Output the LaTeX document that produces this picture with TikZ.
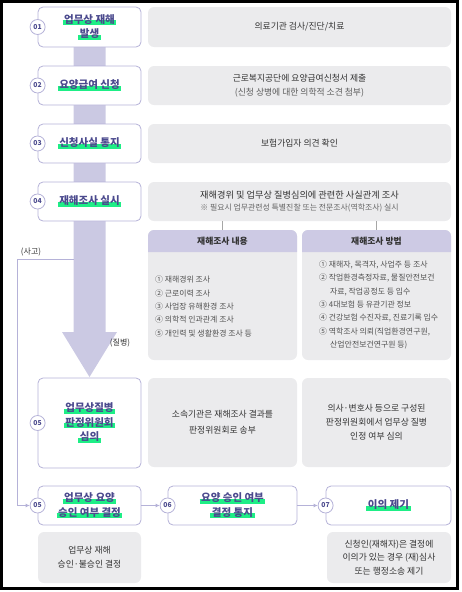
\documentclass[tikz,border=0pt]{standalone}
\usepackage{fontspec}
\setmainfont{Noto Sans CJK KR}
\usetikzlibrary{arrows.meta}

\definecolor{boxline}{HTML}{B5B2D8}
\definecolor{titleblue}{HTML}{4B4A8E}
\definecolor{markgreen}{HTML}{1EEE86}
\definecolor{panelgray}{HTML}{EBEBED}
\definecolor{headlav}{HTML}{CDCAE4}
\definecolor{shaftlav}{HTML}{CBC9E3}
\definecolor{bodytext}{HTML}{333333}

% green marker under the step titles
\newsavebox\hlbox
\newcommand\hilite[1]{\sbox\hlbox{#1}\hbox{\hspace{-1.5pt}\rlap{\color{markgreen}\rule[-2pt]{\dimexpr\wd\hlbox+3pt\relax}{5pt}}\hspace{1.5pt}\usebox\hlbox}}

\tikzset{
  stepbox/.style={draw=boxline, line width=0.8pt, fill=white, rounded corners=5pt,
    minimum width=103pt, inner sep=2pt, align=center, text=titleblue,
    font=\fontsize{10.5}{14.5}\selectfont\bfseries},
  numdot/.style={circle, draw=boxline, line width=0.8pt, fill=white, minimum size=15pt,
    inner sep=0pt, text=titleblue, font=\fontsize{6.8}{7}\selectfont\bfseries},
  infobox/.style={fill=panelgray, rounded corners=6pt, inner sep=2pt, align=center,
    text=bodytext, font=\fontsize{8.8}{13.5}\selectfont},
  headtext/.style={text=bodytext, font=\fontsize{8.8}{10}\selectfont\bfseries},
  listtext/.style={align=left, anchor=west, inner sep=0pt, text=bodytext!85,
    font=\fontsize{7.9}{13.3}\selectfont},
  flowline/.style={draw=boxline, line width=0.8pt, -{Latex[length=4pt,width=4pt]}},
  tickline/.style={draw=gray!70, line width=0.6pt},
  sidenote/.style={text=bodytext, font=\fontsize{8}{10}\selectfont},
}

\begin{document}
\begin{tikzpicture}[x=1pt, y=-1pt]
    \useasboundingbox (0,0) rectangle (462,592);
    % Outer frame
    \draw[line width=3pt] (1.5,1.5) rectangle (457.5,588.5);

    % Big arrow behind the steps
    \fill[shaftlav] (73.5,47) -- (105.5,47) -- (105.5,332) -- (117,332)
        -- (89.5,377) -- (62,332) -- (73.5,332) -- cycle;

    % Steps (left column)
    \node[stepbox, minimum height=40pt] (s01) at (89.5,27) {\hilite{업무상 재해}\\\hilite{발생}};
    \node[stepbox, minimum height=39pt] (s02) at (89.5,85.5) {\hilite{요양급여 신청}};
    \node[stepbox, minimum height=39pt] (s03) at (89.5,143.5) {\hilite{신청사실 통지}};
    \node[stepbox, minimum height=39pt] (s04) at (89.5,201.5) {\hilite{재해조사 실시}};
    \node[stepbox, minimum height=90pt] (s05) at (89.5,423) {\hilite{업무상질병}\\\hilite{판정위원회}\\\hilite{심의}};
    \node[stepbox, minimum height=39pt] (s05b) at (89.5,505.5) {\hilite{업무상 요양}\\\hilite{승인 여부 결정}};
    \node[stepbox, minimum height=39pt, minimum width=129pt] (s06) at (232.5,505.5) {\hilite{요양 승인 여부}\\\hilite{결정 통지}};
    \node[stepbox, minimum height=39pt, minimum width=125pt] (s07) at (388.5,505.5) {\hilite{이의 제기}};

    % Step numbers
    \node[numdot] (c01) at (s01.west) {01};
    \node[numdot] (c02) at (s02.west) {02};
    \node[numdot] (c03) at (s03.west) {03};
    \node[numdot] (c04) at (s04.west) {04};
    \node[numdot] (c05) at (s05.west) {05};
    \node[numdot] (c05b) at (s05b.west) {05};
    \node[numdot] (c06) at (s06.west) {06};
    \node[numdot] (c07) at (s07.west) {07};

    % Details (grey panels)
    \node[infobox, minimum width=303pt, minimum height=40pt] (g01) at (299.5,27) {의료기관 검사/진단/치료};
    \node[infobox, minimum width=303pt, minimum height=39pt] (g02) at (299.5,85.5)
        {근로복지공단에 요양급여신청서 제출\\{\color{bodytext!80}(신청 상병에 대한 의학적 소견 첨부)}};
    \node[infobox, minimum width=303pt, minimum height=39pt] (g03) at (299.5,143.5) {보험가입자 의견 확인};
    \node[infobox, minimum width=303pt, minimum height=39pt, font=\fontsize{9.2}{13}\selectfont] (g04) at (299.5,201.5)
        {재해경위 및 업무상 질병심의에 관련한 사실관계 조사\\[-1pt]{\fontsize{7.9}{10}\selectfont\color{bodytext!75}※ 필요시 업무관련성 특별진찰 또는 전문조사(역학조사) 실시}};

    % Survey content / method
    \node[infobox, minimum width=149pt, minimum height=130pt] (sub1) at (222.5,295) {};
    \node[infobox, minimum width=149pt, minimum height=130pt] (sub2) at (376.5,295) {};
    \fill[headlav] (148,252) [rounded corners=6pt] -- (148,230) -- (297,230) [sharp corners] -- (297,252) -- cycle;
    \fill[headlav] (302,252) [rounded corners=6pt] -- (302,230) -- (451,230) [sharp corners] -- (451,252) -- cycle;
    \node[headtext] (h1) at (222.5,241) {재해조사 내용};
    \node[headtext] (h2) at (376.5,241) {재해조사 방법};
    \draw[tickline] (g04.south -| sub1.north) -- (sub1.north);
    \draw[tickline] (g04.south -| sub2.north) -- (sub2.north);

    \node[listtext] (l1) at (155,306.5) {① 재해경위 조사\\② 근로이력 조사\\③ 사업장 유해환경 조사\\④ 의학적 인과관계 조사\\⑤ 개인력 및 생활환경 조사 등};
    \node[listtext] (l2) at (319,305) {① 재해자, 목격자, 사업주 등 조사\\② 작업환경측정자료, 물질안전보건\\\hspace*{11pt}자료, 작업공정도 등 입수\\③ 4대보험 등 유관기관 정보\\④ 건강보험 수진자료, 진료기록 입수\\⑤ 역학조사 의뢰(직업환경연구원,\\\hspace*{11pt}산업안전보건연구원 등)};

    % Committee step
    \node[infobox, minimum width=149pt, minimum height=89pt, font=\fontsize{8.8}{16}\selectfont] (g05a) at (222.5,422.5)
        {소속기관은 재해조사 결과를\\판정위원회로 송부};
    \node[infobox, minimum width=149pt, minimum height=89pt, font=\fontsize{8.8}{14}\selectfont] (g05b) at (376.5,422.5)
        {의사·변호사 등으로 구성된\\판정위원회에서 업무상 질병\\인정 여부 심의};

    % Bottom notes
    \node[infobox, minimum width=103pt, minimum height=51pt, font=\fontsize{8.8}{14}\selectfont] (g05c) at (89.5,557.5)
        {업무상 재해\\승인·불승인 결정};
    \node[infobox, minimum width=124pt, minimum height=51pt, font=\fontsize{8.8}{13.5}\selectfont] (g07) at (389,557.5)
        {신청인(재해자)은 결정에\\이의가 있는 경우 (재)심사\\또는 행정소송 제기};

    % Branch labels
    \node[sidenote] (acc) at (31,252) {(사고)};
    \node[sidenote] (ill) at (120,343) {(질병)};

    % Connectors
    \coordinate (split) at (73.5,259);
    \draw[flowline] (split) -| (17,505.5) -- (c05b.west);
    \draw[flowline] (s05b.east) -- (c06.west);
    \draw[flowline] (s06.east) -- (c07.west);
\end{tikzpicture}
\end{document}
